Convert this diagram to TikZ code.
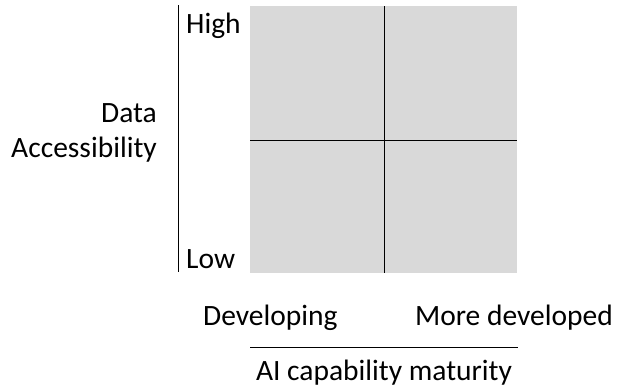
\documentclass[tikz,border=0pt]{standalone}
\usepackage{fontspec}
\setmainfont{Carlito}
\begin{document}
\begin{tikzpicture}[x=1pt,y=-1pt,
  lbl/.style={inner sep=0pt,font=\fontsize{29.5}{35}\selectfont},
  axis/.style={draw=black,line width=1pt},
  grid/.style={draw=black,line width=0.9pt}]
\useasboundingbox (0,0) rectangle (618,386);
\fill[fill={rgb,255:red,217;green,217;blue,217}] (250,6) rectangle (517,273);
\coordinate (vt) at (384,6);
\coordinate (vb) at (384,273);
\coordinate (hl) at (250,140);
\coordinate (hr) at (517,140);
\draw[grid] (vt) -- (vb);
\draw[grid] (hl) -- (hr);
\coordinate (at) at (178,5);
\coordinate (ab) at (178,272);
\draw[axis] (at) -- (ab);
\coordinate (bl) at (250,347);
\coordinate (br) at (518,347);
\draw[axis] (bl) -- (br);
\node[lbl,anchor=base west] (high) at (186,33) {High};
\node[lbl,anchor=base west] (low) at (186,268) {Low};
\node[lbl,anchor=base east] (data) at (157,122) {Data};
\node[lbl,anchor=base east] (acc) at (157,157) {Accessibility};
\node[lbl,anchor=base west] (dev) at (203,325) {Developing};
\node[lbl,anchor=base east] (more) at (613,325) {More developed};
\node[lbl,anchor=base] (ai) at (384,380) {AI capability maturity};
\end{tikzpicture}
\end{document}
